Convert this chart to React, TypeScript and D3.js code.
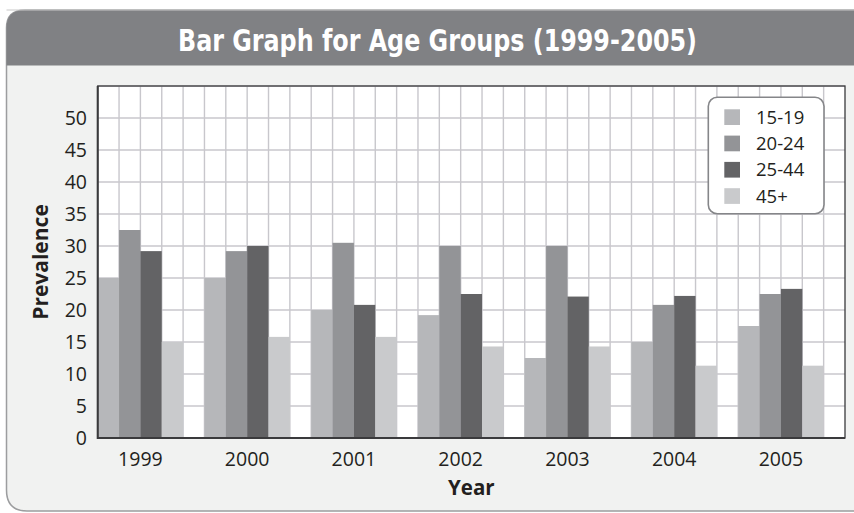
import React from "react";
import * as d3 from "d3";

const years = ["1999", "2000", "2001", "2002", "2003", "2004", "2005"];
const seriesNames = ["15-19", "20-24", "25-44", "45+"];
const s1519 = [25, 25, 20, 19.2, 12.5, 15, 17.5];
const s2024 = [32.5, 29.2, 30.5, 30, 30, 20.8, 22.5];
const s2544 = [29.2, 30, 20.8, 22.5, 22.1, 22.2, 23.3];
const s45 = [15, 15.8, 15.8, 14.3, 14.3, 11.3, 11.3];
const yTicks = [0, 5, 10, 15, 20, 25, 30, 35, 40, 45, 50];
const colors = ["#b6b7ba", "#939497", "#636365", "#c9cacc"];

const W = 854;
const H = 513;
const plot = { left: 97.7, right: 845, top: 86, bottom: 438 };
const tickFont = "'Open Sans', 'Noto Sans', sans-serif";

export default function App() {
  const seriesValues = [s1519, s2024, s2544, s45];
  const x = d3
    .scaleBand<string>()
    .domain(years)
    .range([plot.left, plot.right])
    .paddingInner(0.2)
    .paddingOuter(0.1)
    .align(0);
  const xs = d3.scaleBand<string>().domain(seriesNames).range([0, x.bandwidth()]);
  const y = d3.scaleLinear().domain([0, 55]).range([plot.bottom, plot.top]);

  const colW = x.bandwidth() / 4;
  const vLines: number[] = [];
  years.forEach((yr) => {
    for (let j = 0; j <= 4; j++) vLines.push((x(yr) as number) + j * colW);
  });
  const hLines = d3.range(5, 56, 5);

  const legendX = 708.3;
  const legendY = 97.3;

  return (
    <div style={{ position: "absolute", left: 0, top: 0 }}>
      <svg width={W} height={H} style={{ display: "block" }}>
        <rect x={0} y={0} width={W} height={H} fill="#ffffff" />
        {/* panel */}
        <path
          d={`M ${W + 20} 10 L 25 10 Q 6.5 10 6.5 28 L 6.5 490 Q 6.5 511 27 511 L ${W + 20} 511`}
          fill="#f1f2f1"
          stroke="#9c9d9f"
          strokeWidth={1.5}
        />
        <path
          d={`M ${W + 20} 10 L 25 10 Q 6.5 10 6.5 28 L 6.5 65.5 L ${W + 20} 65.5 Z`}
          fill="#808184"
          stroke="none"
        />
        <line x1={6.5} x2={W} y1={10} y2={10} stroke="#c8c8c8" strokeWidth={1} />
        <text
          x={437.5}
          y={50.5}
          textAnchor="middle"
          fill="#ffffff"
          fontFamily="'Liberation Sans Narrow', 'DejaVu Sans Condensed', sans-serif"
          fontWeight={700}
          fontSize={31}
          textLength={519}
          lengthAdjust="spacingAndGlyphs"
        >
          Bar Graph for Age Groups (1999-2005)
        </text>

        {/* plot background */}
        <rect
          x={plot.left}
          y={plot.top}
          width={plot.right - plot.left}
          height={plot.bottom - plot.top}
          fill="#ffffff"
        />
        {vLines.map((vx, i) => (
          <line key={"v" + i} x1={vx} x2={vx} y1={plot.top} y2={plot.bottom} stroke="#c8c7cc" strokeWidth={1.4} />
        ))}
        {hLines.map((v) => (
          <line key={"h" + v} x1={plot.left} x2={plot.right} y1={y(v)} y2={y(v)} stroke="#c8c7cc" strokeWidth={1.4} />
        ))}

        {/* bars */}
        {years.map((yr, i) => (
          <g key={yr}>
            {seriesNames.map((s, k) => {
              const v = seriesValues[k][i];
              return (
                <rect
                  key={s}
                  x={(x(yr) as number) + (xs(s) as number)}
                  y={y(v)}
                  width={xs.bandwidth()}
                  height={y(0) - y(v)}
                  fill={colors[k]}
                />
              );
            })}
          </g>
        ))}

        {/* border */}
        <rect
          x={plot.left}
          y={plot.top}
          width={plot.right - plot.left}
          height={plot.bottom - plot.top}
          fill="none"
          stroke="#3a3a3c"
          strokeWidth={1.3}
        />
        <line x1={plot.left} x2={plot.left} y1={plot.top} y2={plot.bottom + 1} stroke="#3a3a3c" strokeWidth={2} />
        <line x1={plot.left} x2={plot.right} y1={plot.bottom} y2={plot.bottom} stroke="#3a3a3c" strokeWidth={2} />

        {/* y ticks */}
        {yTicks.map((t) => (
          <text
            key={"yt" + t}
            x={87}
            y={y(t)}
            dy="0.35em"
            textAnchor="end"
            fontFamily={tickFont}
            fontSize={19.5}
            fill="#231f20"
          >
            {t}
          </text>
        ))}
        {/* x ticks */}
        {years.map((yr) => (
          <text
            key={"xt" + yr}
            x={(x(yr) as number) + x.bandwidth() / 2}
            y={466}
            textAnchor="middle"
            fontFamily={tickFont}
            fontSize={19.5}
            fill="#231f20"
          >
            {yr}
          </text>
        ))}

        {/* axis titles */}
        <text
          x={(plot.left + plot.right) / 2}
          y={494.5}
          textAnchor="middle"
          fontFamily={tickFont}
          fontWeight={700}
          fontSize={20.5}
          fill="#231f20"
        >
          Year
        </text>
        <text
          transform={`translate(48, ${(plot.top + plot.bottom) / 2}) rotate(-90)`}
          textAnchor="middle"
          fontFamily={tickFont}
          fontWeight={700}
          fontSize={21}
          fill="#231f20"
        >
          Prevalence
        </text>

        {/* legend */}
        <rect
          x={legendX}
          y={legendY}
          width={115.7}
          height={116.5}
          rx={9}
          ry={9}
          fill="#ffffff"
          stroke="#858689"
          strokeWidth={1.6}
        />
        {seriesNames.map((s, k) => (
          <g key={"lg" + s}>
            <rect x={724.3} y={109.3 + k * 26.3} width={15.7} height={15.7} fill={colors[k]} />
            <text
              x={756}
              y={117.2 + k * 26.3}
              dy="0.35em"
              fontFamily={tickFont}
              fontSize={18.5}
              fill="#231f20"
            >
              {s}
            </text>
          </g>
        ))}
      </svg>
    </div>
  );
}
